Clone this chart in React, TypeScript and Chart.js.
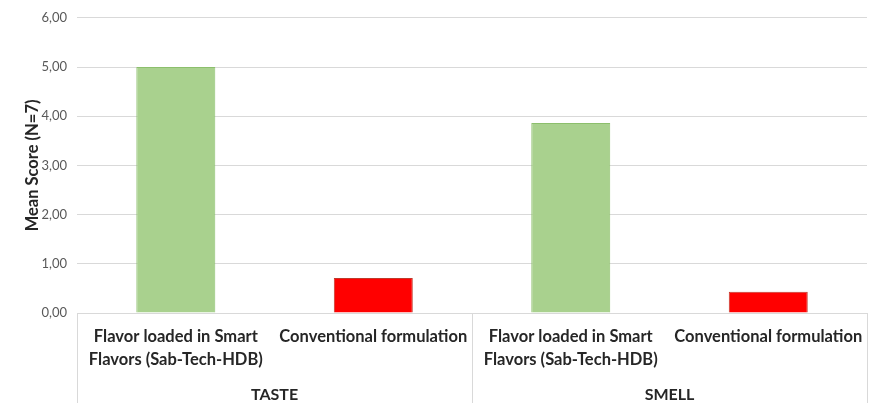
import React, { useEffect, useRef } from 'react';
import { Chart, registerables } from 'chart.js';

Chart.register(...registerables);

const groups = ['TASTE', 'SMELL'];
const categories: string[][] = [
  ['Flavor loaded in Smart', 'Flavors (Sab-Tech-HDB)'],
  ['Conventional formulation'],
  ['Flavor loaded in Smart', 'Flavors (Sab-Tech-HDB)'],
  ['Conventional formulation'],
];
const meanScores = [5.0, 0.71, 3.86, 0.43];
const barColors = ['#a9d18e', '#ff0000', '#a9d18e', '#ff0000'];
const barBorders = ['#8cbf6c', '#c0392b', '#8cbf6c', '#c0392b'];
const yMin = 0;
const yMax = 6;
const yStep = 1;

const FONT = 'Lato, "Open Sans", "DejaVu Sans", sans-serif';

const groupSeparators = {
  id: 'groupSeparators',
  afterDraw(chart: any) {
    const { ctx, chartArea, scales } = chart;
    const x = scales.x;
    const perGroup = categories.length / groups.length;
    const xs: number[] = [chartArea.left, chartArea.right];
    for (let i = perGroup; i < categories.length; i += perGroup) {
      xs.push((x.getPixelForTick(i - 1) + x.getPixelForTick(i)) / 2);
    }
    ctx.save();
    ctx.strokeStyle = '#d9d9d9';
    ctx.lineWidth = 1;
    xs.forEach((px) => {
      const p = Math.round(px) + 0.5;
      ctx.beginPath();
      ctx.moveTo(p, chartArea.bottom);
      ctx.lineTo(p, chart.height);
      ctx.stroke();
    });
    ctx.restore();
  },
};

export default function App() {
  const ref = useRef<HTMLCanvasElement>(null);

  useEffect(() => {
    if (!ref.current) return;
    const chart = new Chart(ref.current, {
      type: 'bar',
      data: {
        labels: categories,
        datasets: [
          {
            data: meanScores,
            backgroundColor: barColors,
            borderColor: barBorders,
            borderWidth: 1,
            barPercentage: 0.4,
            categoryPercentage: 1,
          },
        ],
      },
      options: {
        responsive: false,
        animation: false,
        layout: { padding: { left: 10, right: 12, top: 16, bottom: 0.6 } },
        plugins: {
          legend: { display: false },
          tooltip: { enabled: false },
        },
        scales: {
          x: {
            offset: true,
            grid: { display: false, drawTicks: false },
            border: { display: true, color: '#d9d9d9' },
            ticks: {
              autoSkip: false,
              maxRotation: 0,
              minRotation: 0,
              padding: 12,
              color: '#262626',
              font: { family: FONT, size: 16.5, weight: 'bold', lineHeight: '23.3px' },
            },
          },
          x2: {
            type: 'category',
            labels: groups,
            position: 'bottom',
            offset: true,
            grid: { display: false, drawTicks: false },
            border: { display: false },
            ticks: {
              autoSkip: false,
              maxRotation: 0,
              padding: 8.4,
              color: '#262626',
              font: { family: FONT, size: 16, weight: 'bold', lineHeight: '6px' },
            },
          },
          y: {
            min: yMin,
            max: yMax,
            grid: { color: '#d9d9d9', drawTicks: false },
            border: { display: false },
            ticks: {
              stepSize: yStep,
              padding: 10,
              color: '#595959',
              font: { family: FONT, size: 13 },
              callback: (v: any) => Number(v).toFixed(2).replace('.', ','),
            },
            title: {
              display: true,
              text: 'Mean Score (N=7)',
              color: '#262626',
              padding: { top: 22, bottom: -2.5 },
              font: { family: FONT, size: 16.5, weight: 'bold', lineHeight: '2px' },
            },
          },
        },
      },
      plugins: [groupSeparators],
    });
    return () => chart.destroy();
  }, []);

  return (
    <div style={{ position: 'fixed', left: 0, top: 0, width: 879, height: 403, overflow: 'hidden', background: '#fff' }}>
      <canvas ref={ref} width={879} height={407} />
    </div>
  );
}
